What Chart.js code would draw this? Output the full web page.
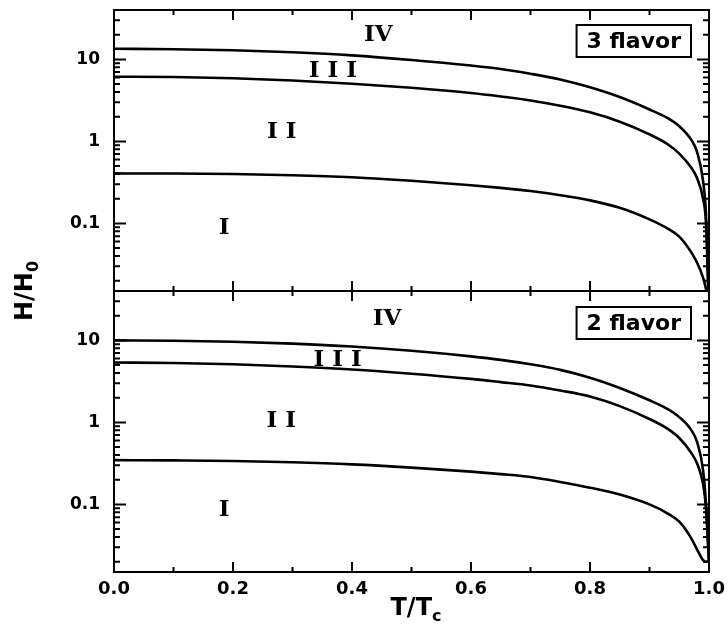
<!DOCTYPE html>
<html><head><meta charset="utf-8">
<script src="https://cdn.jsdelivr.net/npm/chart.js@4.4.1/dist/chart.umd.min.js"></script>
<style>
html,body{margin:0;padding:0;background:#fff;width:728px;height:627px;overflow:hidden;position:relative}
canvas{position:absolute;left:0}
#c1{top:0}
#c2{top:281px}
.ttl{position:absolute;font-family:"DejaVu Sans";font-weight:bold;color:#000;font-size:24px;line-height:24px;white-space:nowrap}
.ttl sub{font-size:16px;vertical-align:-6px;line-height:0}
#xt{left:416px;top:595px;transform:translateX(-50%)}
#yt{left:24px;top:291px;transform:translate(-50%,-50%) rotate(-90deg)}
</style></head><body>
<canvas id="c1" width="728" height="300"></canvas>
<canvas id="c2" width="728" height="346"></canvas>
<div class="ttl" id="xt">T/T<sub>c</sub></div>
<div class="ttl" id="yt">H/H<sub>0</sub></div>
<script>
// ---- data ----
const T      = [0, 0.1, 0.2, 0.3, 0.4, 0.5, 0.6, 0.65, 0.7, 0.75, 0.8, 0.85, 0.9, 0.93, 0.95, 0.97, 0.98, 0.99, 0.995, 1.0];
// 3 flavor (top panel)
const TOP_A  = [13.5, 13.3, 12.9, 12.2, 11.2, 9.84, 8.41, 7.64, 6.68, 5.69, 4.57, 3.47, 2.45, 1.93, 1.53, 1.05, 0.74, 0.33, 0.126, 0.008];
const TOP_B  = [6.15, 6.10, 5.89, 5.52, 5.05, 4.50, 3.89, 3.53, 3.16, 2.72, 2.26, 1.74, 1.22, 0.93, 0.71, 0.48, 0.355, 0.20, 0.10, 0.008];
const TOP_C  = [0.407, 0.406, 0.400, 0.387, 0.365, 0.331, 0.292, 0.271, 0.248, 0.221, 0.191, 0.155, 0.112, 0.087, 0.069, 0.0447, 0.0331, 0.0219, 0.0158, 0.010];
// 2 flavor (bottom panel)
const BOT_A  = [10.0, 9.91, 9.62, 9.12, 8.41, 7.46, 6.38, 5.79, 5.11, 4.37, 3.51, 2.63, 1.86, 1.46, 1.16, 0.81, 0.575, 0.263, 0.10, 0.02];
const BOT_B  = [5.37, 5.30, 5.11, 4.81, 4.42, 3.92, 3.39, 3.10, 2.82, 2.45, 2.07, 1.58, 1.10, 0.84, 0.646, 0.427, 0.316, 0.178, 0.089, 0.02];
const BOT_C  = [0.347, 0.344, 0.339, 0.327, 0.308, 0.281, 0.251, 0.234, 0.216, 0.188, 0.160, 0.132, 0.100, 0.078, 0.0617, 0.0389, 0.0282, 0.0209, 0.020, 0.020];

const X_TICKS  = [0, 0.2, 0.4, 0.6, 0.8, 1.0];
const X_LABELS = ['0.0', '0.2', '0.4', '0.6', '0.8', '1.0'];
const X_MINOR  = [0.1, 0.3, 0.5, 0.7, 0.9];
const Y_TICKS  = [0.1, 1, 10];
const Y_LABELS = ['0.1', '1', '10'];
const Y_MIN = 0.015, Y_MAX = 40;

const TOP_REGIONS = [{text:'IV', x:0.444, y:21}, {text:'I I I', x:0.368, y:7.8}, {text:'I I', x:0.282, y:1.4}, {text:'I', x:0.185, y:0.095}];
const BOT_REGIONS = [{text:'IV', x:0.459, y:19.4}, {text:'I I I', x:0.376, y:6.2}, {text:'I I', x:0.281, y:1.1}, {text:'I', x:0.185, y:0.092}];
const TOP_NAME = '3 flavor';
const BOT_NAME = '2 flavor';

// minor log ticks
const Y_MINOR = [];
for (let e = -2; e <= 1; e++) for (let k = 2; k <= 9; k++) {
  const v = k * Math.pow(10, e);
  if (v > Y_MIN && v < Y_MAX) Y_MINOR.push(v);
}

const panelPlugin = {
  id: 'panel',
  afterDraw(chart, args, opts) {
    const ctx = chart.ctx, a = chart.chartArea, xs = chart.scales.x, ys = chart.scales.y;
    ctx.save();
    ctx.strokeStyle = '#000';
    ctx.lineWidth = 2;
    ctx.strokeRect(a.left, a.top, a.right - a.left, a.bottom - a.top);
    ctx.beginPath();
    const xt = (v, len) => { const p = xs.getPixelForValue(v);
      ctx.moveTo(p, a.bottom); ctx.lineTo(p, a.bottom - len);
      ctx.moveTo(p, a.top); ctx.lineTo(p, a.top + len); };
    X_TICKS.forEach(v => xt(v, 10));
    X_MINOR.forEach(v => xt(v, 5));
    const yt = (v, len) => { const p = ys.getPixelForValue(v);
      ctx.moveTo(a.left, p); ctx.lineTo(a.left + len, p);
      ctx.moveTo(a.right, p); ctx.lineTo(a.right - len, p); };
    Y_TICKS.forEach(v => yt(v, 12));
    Y_MINOR.forEach(v => yt(v, 6));
    ctx.stroke();
    // region labels
    ctx.fillStyle = '#000';
    ctx.font = 'bold 23px "DejaVu Serif"';
    ctx.textAlign = 'center';
    ctx.textBaseline = 'alphabetic';
    opts.regions.forEach(r => {
      ctx.fillText(r.text, xs.getPixelForValue(r.x), ys.getPixelForValue(r.y) + 8.4);
    });
    // flavor box
    ctx.font = 'bold 22px "DejaVu Sans"';
    const w = ctx.measureText(opts.name).width + 20, h = 32;
    const bx = a.right - 18 - w, by = a.top + opts.boxTop;
    ctx.fillStyle = '#fff';
    ctx.fillRect(bx, by, w, h);
    ctx.strokeRect(bx, by, w, h);
    ctx.fillStyle = '#000';
    ctx.textAlign = 'center';
    ctx.fillText(opts.name, bx + w / 2, by + 23);
    ctx.restore();
  }
};

function makeChart(id, series, regions, name, showX) {
  return new Chart(document.getElementById(id), {
    type: 'line',
    data: {
      datasets: series.map(vals => ({
        data: T.map((t, i) => ({x: t, y: vals[i]})),
        borderColor: '#000', borderWidth: 2.6, pointRadius: 0,
        cubicInterpolationMode: 'monotone', fill: false
      }))
    },
    options: {
      responsive: false, animation: false, devicePixelRatio: 1,
      layout: {padding: {top: 10, right: 19, bottom: showX ? 0 : 9, left: 0}},
      plugins: {
        legend: {display: false}, tooltip: {enabled: false},
        panel: {regions: regions, name: name, boxTop: showX ? 16 : 15}
      },
      scales: {
        x: {
          type: 'linear', min: 0, max: 1, display: showX,
          afterBuildTicks: s => { s.ticks = X_TICKS.map(v => ({value: v})); },
          afterFit: s => { s.height = showX ? 55 : 0; s.paddingLeft = 0; s.paddingRight = 0; },
          ticks: {callback: (v, i) => X_LABELS[i], color: '#000', padding: 7, maxRotation: 0, autoSkip: false,
                  font: {family: 'DejaVu Sans', weight: 'bold', size: 18}},
          grid: {display: false, drawTicks: false}, border: {display: false}
        },
        y: {
          type: 'logarithmic', min: Y_MIN, max: Y_MAX,
          afterBuildTicks: s => { s.ticks = Y_TICKS.map(v => ({value: v})); },
          afterFit: s => { s.width = 114; s.paddingTop = 0; s.paddingBottom = 0; },
          ticks: {callback: (v, i) => Y_LABELS[i], color: '#000', padding: 14, autoSkip: false,
                  font: {family: 'DejaVu Sans', weight: 'bold', size: 17}},
          grid: {display: false, drawTicks: false}, border: {display: false}
        }
      }
    },
    plugins: [panelPlugin]
  });
}

makeChart('c1', [TOP_A, TOP_B, TOP_C], TOP_REGIONS, TOP_NAME, false);
makeChart('c2', [BOT_A, BOT_B, BOT_C], BOT_REGIONS, BOT_NAME, true);
</script>
</body></html>
